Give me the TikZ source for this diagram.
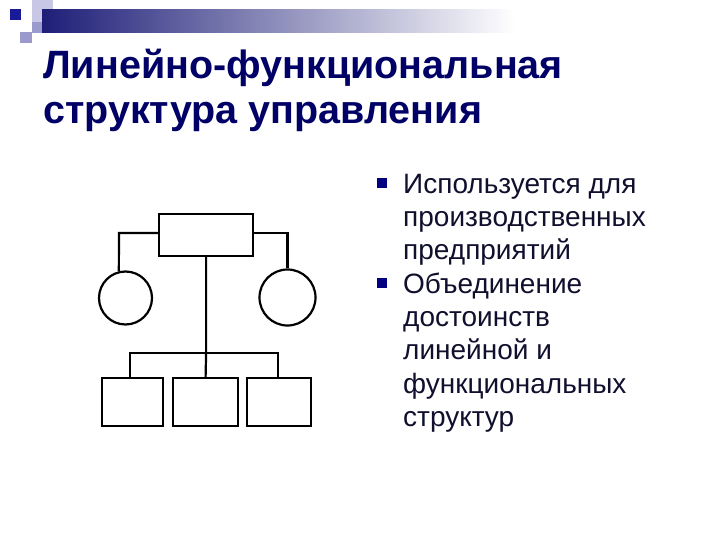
\documentclass[tikz,border=0pt]{standalone}
\usepackage{fontspec}
\setmainfont{Liberation Sans}
\begin{document}
\begin{tikzpicture}[x=1pt,y=-1pt,
  line/.style={line width=2.2pt,black},
  org/.style={draw=black,line width=2.2pt,rectangle,inner sep=0pt,anchor=north west},
  unit/.style={draw=black,line width=2.2pt,circle,inner sep=0pt},
  title/.style={anchor=base west,inner sep=0pt,font=\bfseries\fontsize{39.5}{44}\selectfont,text=navyT},
  btext/.style={anchor=base west,inner sep=0pt,font=\fontsize{28}{33.4}\selectfont,text=bodyT,align=left},
  bul/.style={fill=navyB,minimum size=10pt,inner sep=0pt,anchor=north west}]
\definecolor{navyT}{HTML}{000066}
\definecolor{navyB}{HTML}{000080}
\definecolor{bodyT}{HTML}{10102E}
\definecolor{barL}{HTML}{1E1E78}
\definecolor{lav1}{HTML}{C8C8E6}
\definecolor{lav2}{HTML}{9A9ACC}
\definecolor{sq}{HTML}{1A1A99}
\useasboundingbox (0,0) rectangle (720,540);
\fill[white] (0,0) rectangle (720,540);
% header decoration
\fill[lav1] (32,0) rectangle (53,22);
\shade[left color=barL,right color=white] (42,10) rectangle (515,33);
\fill[lav2] (32,22) rectangle (42,33);
\fill[lav2] (20,32) rectangle (32,43);
\fill[sq] (10,9) rectangle (21,20);
% title
\node[title] (t1) at (43,79) {Линейно-функциональная};
\node[title] (t2) at (43,124) {структура управления};
% bullets
\node[bul] (b1) at (377,178) {};
\node[bul] (b2) at (377,278) {};
\node[btext] (x1) at (403,259.8) {Используется для\\производственных\\предприятий};
\node[btext] (x2) at (403,426.6) {Объединение\\достоинств\\линейной и\\функциональных\\структур};
% org chart
\node[org,minimum width=94pt,minimum height=42pt] (top) at (158,213) {};
\node[unit,minimum size=53pt] (cl) at (125.5,298) {};
\node[unit,minimum size=56pt] (cr) at (287.5,297.5) {};
\node[org,minimum width=61pt,minimum height=48pt] (u1) at (101,377) {};
\node[org,minimum width=65pt,minimum height=48pt] (u2) at (172,377) {};
\node[org,minimum width=64pt,minimum height=48pt] (u3) at (246,377) {};
\coordinate (lk) at (119,233);
\coordinate (rk) at (cr.north |- lk);
\coordinate (busc) at (top.south |- 0,353);
\draw[line] (top.west |- lk) -- (lk) -- (cl.104);
\draw[line] (top.east |- rk) -- (rk) -- (cr.north);
\draw[line] (top.south) -- (busc) -- (u2.north);
\draw[line] (busc -| 130,0) -- (130,0 |- u1.north);
\draw[line] (busc -| 129,0) -- (busc -| 279,0);
\draw[line] (busc -| 278,0) -- (278,0 |- u3.north);
\end{tikzpicture}
\end{document}
